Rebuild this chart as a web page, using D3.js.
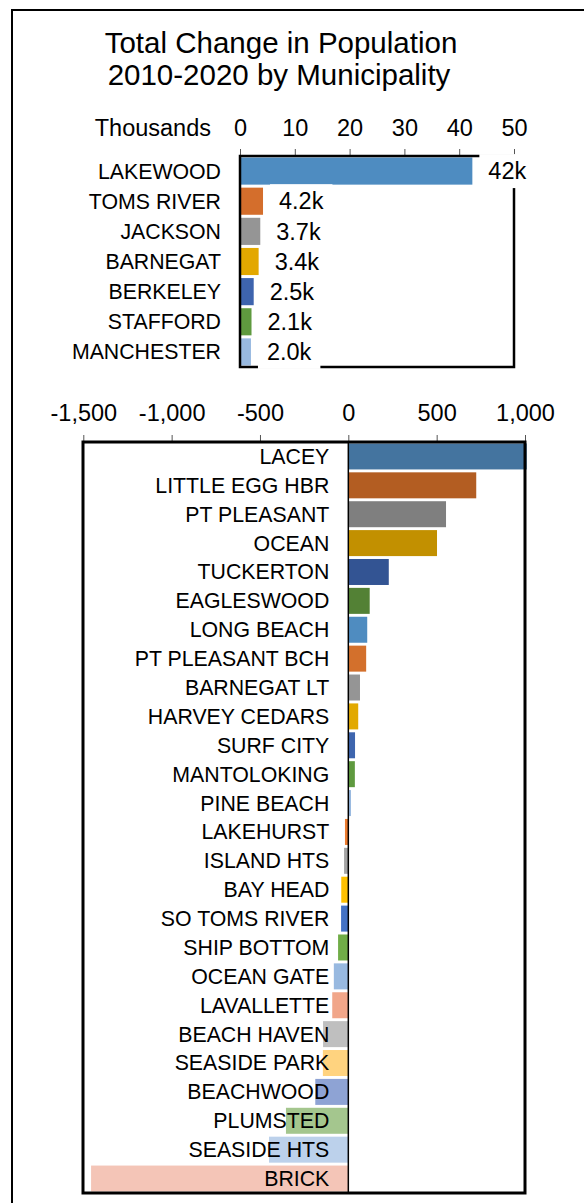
<!DOCTYPE html>
<html>
<head>
<meta charset="utf-8">
<script src="https://cdn.jsdelivr.net/npm/d3@7"></script>
<style>
  body { margin: 0; background: #fff; }
  svg { display: block; font-family: "Liberation Sans", Arial, sans-serif; }
</style>
</head>
<body>
<div id="chart"></div>
<script>
// top panel: the big gainers, in thousands
var topNames = ["LAKEWOOD", "TOMS RIVER", "JACKSON", "BARNEGAT", "BERKELEY", "STAFFORD", "MANCHESTER"];
var topValues = [42.4, 4.2, 3.7, 3.4, 2.5, 2.1, 2.0];
var topTicks = [0, 10, 20, 30, 40, 50];
var topColors = ["#4e8cc1", "#d46e2c", "#959595", "#e3a800", "#3e64ae", "#5f9a3f", "#98b9e0"];

// bottom panel: everybody else, persons
var bottomNames = ["LACEY", "LITTLE EGG HBR", "PT PLEASANT", "OCEAN", "TUCKERTON", "EAGLESWOOD",
  "LONG BEACH", "PT PLEASANT BCH", "BARNEGAT LT", "HARVEY CEDARS", "SURF CITY", "MANTOLOKING",
  "PINE BEACH", "LAKEHURST", "ISLAND HTS", "BAY HEAD", "SO TOMS RIVER", "SHIP BOTTOM",
  "OCEAN GATE", "LAVALLETTE", "BEACH HAVEN", "SEASIDE PARK", "BEACHWOOD", "PLUMSTED",
  "SEASIDE HTS", "BRICK"];
var bottomValues = [1010, 724, 553, 502, 229, 121, 107, 101, 66, 56, 38, 37, 15, -19, -24, -40,
  -41, -58, -82, -91, -143, -144, -187, -353, -449, -1456];
var bottomTicks = [-1500, -1000, -500, 0, 500, 1000];
var bottomColors = ["#44749f", "#b35d22", "#7f7f7f", "#c29000", "#335493", "#538135",
  "#4f8cc0", "#d3702c", "#959595", "#e2a900", "#3e65ae", "#5f9a3f",
  "#98b9e0", "#ed7d31", "#a5a5a5", "#ffc000", "#4472c4", "#70ad47",
  "#98b9e0", "#f1a689", "#bfbfbf", "#ffd37f", "#8ea3d4", "#a4c68e",
  "#bcd1eb", "#f4c5b7"];

var width = 584, height = 1203;

var svg = d3.select("#chart").append("svg")
  .attr("width", width)
  .attr("height", height);

// outer frame, runs off the right and bottom edges
svg.append("rect")
  .attr("x", 12).attr("y", 10)
  .attr("width", 700).attr("height", 1300)
  .attr("fill", "none")
  .attr("stroke", "#000")
  .attr("stroke-width", 2);

var title = svg.append("text")
  .attr("text-anchor", "middle")
  .attr("font-size", 29.5)
  .attr("fill", "#000");
title.append("tspan").attr("x", 281).attr("y", 53).text("Total Change in Population");
title.append("tspan").attr("x", 279).attr("y", 85).text("2010-2020 by Municipality");

/* ---------- top chart ---------- */
var tp = {left: 240, right: 514, top: 156, bottom: 367};

var xTop = d3.scaleLinear().domain([0, 50]).range([tp.left, tp.right]);
var yTop = d3.scaleBand().domain(topNames).range([tp.top, tp.bottom])
  .paddingInner(0.1).paddingOuter(0.05);

var topAxis = svg.append("g")
  .attr("transform", "translate(0," + tp.top + ")")
  .call(d3.axisTop(xTop).tickValues(topTicks).tickSize(7).tickPadding(13));
topAxis.select(".domain").remove();
topAxis.selectAll(".tick line").attr("stroke", "#555");
topAxis.selectAll(".tick text")
  .attr("font-size", 23.5)
  .attr("font-family", "Liberation Sans, Arial, sans-serif")
  .attr("fill", "#000");

svg.append("text")
  .attr("x", 211).attr("y", 136)
  .attr("text-anchor", "end")
  .attr("font-size", 23.5)
  .text("Thousands");

svg.append("g").selectAll("rect")
  .data(topValues)
  .enter().append("rect")
    .attr("x", xTop(0))
    .attr("y", function(d, i) { return yTop(topNames[i]); })
    .attr("width", function(d) { return xTop(d) - xTop(0); })
    .attr("height", yTop.bandwidth())
    .attr("fill", function(d, i) { return topColors[i]; });

svg.append("rect")
  .attr("x", tp.left).attr("y", tp.top)
  .attr("width", tp.right - tp.left).attr("height", tp.bottom - tp.top)
  .attr("fill", "none")
  .attr("stroke", "#000")
  .attr("stroke-width", 2.5);

svg.append("g").selectAll("text")
  .data(topNames)
  .enter().append("text")
    .attr("x", tp.left - 19)
    .attr("y", function(d) { return yTop(d) + yTop.bandwidth() / 2; })
    .attr("dy", "0.35em")
    .attr("text-anchor", "end")
    .attr("font-size", 21.3)
    .text(function(d) { return d; });

function kLabel(v) {
  return v >= 10 ? Math.round(v) + "k" : v.toFixed(1) + "k";
}

// data labels sit on white boxes, which also cut the frame
var labels = svg.append("g").selectAll("g")
  .data(topValues)
  .enter().append("g");
labels.append("rect").attr("fill", "#fff");
labels.append("text")
  .attr("x", function(d) { return xTop(d) + 16; })
  .attr("y", function(d, i) { return yTop(topNames[i]) + yTop.bandwidth() / 2; })
  .attr("dy", "0.35em")
  .attr("font-size", 23.5)
  .text(function(d) { return kLabel(d); });
labels.each(function(d, i) {
  var g = d3.select(this);
  var t = g.select("text");
  var w = t.node().getComputedTextLength();
  var cy = yTop(topNames[i]) + yTop.bandwidth() / 2;
  g.select("rect")
    .attr("x", xTop(d) + 16 - 9)
    .attr("y", cy - 17)
    .attr("width", w + 18)
    .attr("height", 34);
});

/* ---------- bottom chart ---------- */
var bp = {left: 83, right: 525, top: 442, bottom: 1193};

var xBot = d3.scaleLinear().domain([-1500, 1000]).range([83.3, 525]);
var yBot = d3.scaleBand().domain(bottomNames).range([bp.top, bp.bottom])
  .paddingInner(0.1).paddingOuter(0.05);

var fmt = d3.formatLocale({decimal: ".", thousands: ",", grouping: [3], currency: ["$", ""], minus: "-"}).format(",");

var botAxis = svg.append("g")
  .attr("transform", "translate(0," + bp.top + ")")
  .call(d3.axisTop(xBot).tickValues(bottomTicks).tickSize(7).tickPadding(14).tickFormat(fmt));
botAxis.select(".domain").remove();
botAxis.selectAll(".tick line").attr("stroke", "#555");
botAxis.selectAll(".tick text")
  .attr("font-size", 23.5)
  .attr("font-family", "Liberation Sans, Arial, sans-serif")
  .attr("fill", "#000");

svg.append("g").selectAll("rect")
  .data(bottomValues)
  .enter().append("rect")
    .attr("x", function(d) { return Math.min(xBot(0), xBot(d)); })
    .attr("y", function(d, i) { return yBot(bottomNames[i]); })
    .attr("width", function(d) { return Math.abs(xBot(d) - xBot(0)); })
    .attr("height", yBot.bandwidth())
    .attr("fill", function(d, i) { return bottomColors[i]; });

svg.append("line")
  .attr("x1", xBot(0)).attr("x2", xBot(0))
  .attr("y1", bp.top).attr("y2", bp.bottom)
  .attr("stroke", "#000")
  .attr("stroke-width", 1.5);

svg.append("rect")
  .attr("x", bp.left).attr("y", bp.top)
  .attr("width", bp.right - bp.left).attr("height", bp.bottom - bp.top)
  .attr("fill", "none")
  .attr("stroke", "#000")
  .attr("stroke-width", 3);

svg.append("g").selectAll("text")
  .data(bottomNames)
  .enter().append("text")
    .attr("x", xBot(0) - 19)
    .attr("y", function(d) { return yBot(d) + yBot.bandwidth() / 2; })
    .attr("dy", "0.35em")
    .attr("text-anchor", "end")
    .attr("font-size", 21.3)
    .text(function(d) { return d; });
</script>
</body>
</html>
